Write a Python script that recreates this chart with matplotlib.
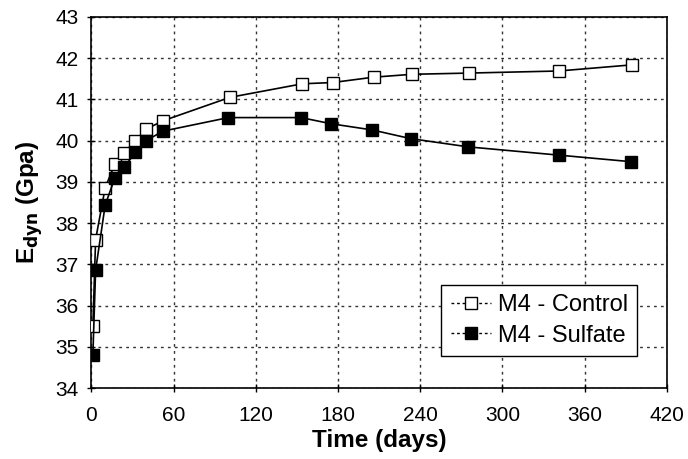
import matplotlib
matplotlib.use("Agg")
import matplotlib.pyplot as plt
from matplotlib.lines import Line2D

plt.rcParams['font.family'] = ['Liberation Sans', 'DejaVu Sans']

days_control = [1, 3, 10, 17, 24, 32, 40, 52, 101, 154, 176, 206, 234, 276, 341, 395]
e_control = [35.5, 37.6, 38.86, 39.43, 39.7, 40.0, 40.28, 40.48, 41.05, 41.38, 41.41, 41.54, 41.61, 41.64, 41.69, 41.84]

days_sulfate = [1, 3, 10, 17, 24, 32, 40, 52, 100, 153, 175, 205, 233, 275, 341, 394]
e_sulfate = [34.8, 36.86, 38.44, 39.09, 39.35, 39.73, 40.0, 40.23, 40.56, 40.56, 40.41, 40.26, 40.05, 39.85, 39.65, 39.49]

x_ticks = [0, 60, 120, 180, 240, 300, 360, 420]
y_ticks = list(range(34, 44))
labels = ['M4 - Control', 'M4 - Sulfate']

fig = plt.figure(figsize=(6.88, 4.59), dpi=100)
ax = fig.add_axes([91.5/688, 1 - 388/459, (666.7 - 91.5)/688, (388 - 17)/459])

ax.plot(days_control, e_control, '-', color='black', lw=1.2, marker='s', ms=8.5,
        mfc='white', mec='black', mew=1.0, zorder=3)
ax.plot(days_sulfate, e_sulfate, '-', color='black', lw=1.2, marker='s', ms=8.5,
        mfc='black', mec='black', mew=1.0, zorder=3)

ax.set_xlim(0, 420)
ax.set_ylim(34, 43)
ax.set_xticks(x_ticks)
ax.set_yticks(y_ticks)
ax.grid(True, color='#333333', linestyle=(0, (2, 3)), linewidth=1.0)
ax.tick_params(direction='inout', length=6, width=1, labelsize=15, colors='black')
ax.tick_params(axis='x', pad=10)
ax.tick_params(axis='y', pad=6)
for s in ax.spines.values():
    s.set_linewidth(1.2)
    s.set_color('black')

ax.set_xlabel('Time (days)', fontsize=17.5, fontweight='bold', labelpad=3)
ax.set_ylabel(r'E$_{\mathbf{dyn}}$ (Gpa)', fontsize=17.5, fontweight='bold', labelpad=8)

handles = [
    Line2D([], [], color='black', lw=1.0, ls=(0, (2, 2)), marker='s', ms=8, mfc='white', mec='black'),
    Line2D([], [], color='black', lw=1.0, ls=(0, (2, 2)), marker='s', ms=8, mfc='black', mec='black'),
]
leg = ax.legend(handles, labels, loc='lower right',
                bbox_to_anchor=((637.3 - 91.5)/(666.7 - 91.5), (388 - 356)/(388 - 17)),
                bbox_transform=ax.transAxes,
                fontsize=17, frameon=True, fancybox=False, edgecolor='black', framealpha=1,
                handlelength=1.7, borderpad=0.4, labelspacing=0.35, handletextpad=0.3,
                borderaxespad=0)
leg.get_frame().set_linewidth(1.0)

fig.savefig('out.png', dpi=100)
